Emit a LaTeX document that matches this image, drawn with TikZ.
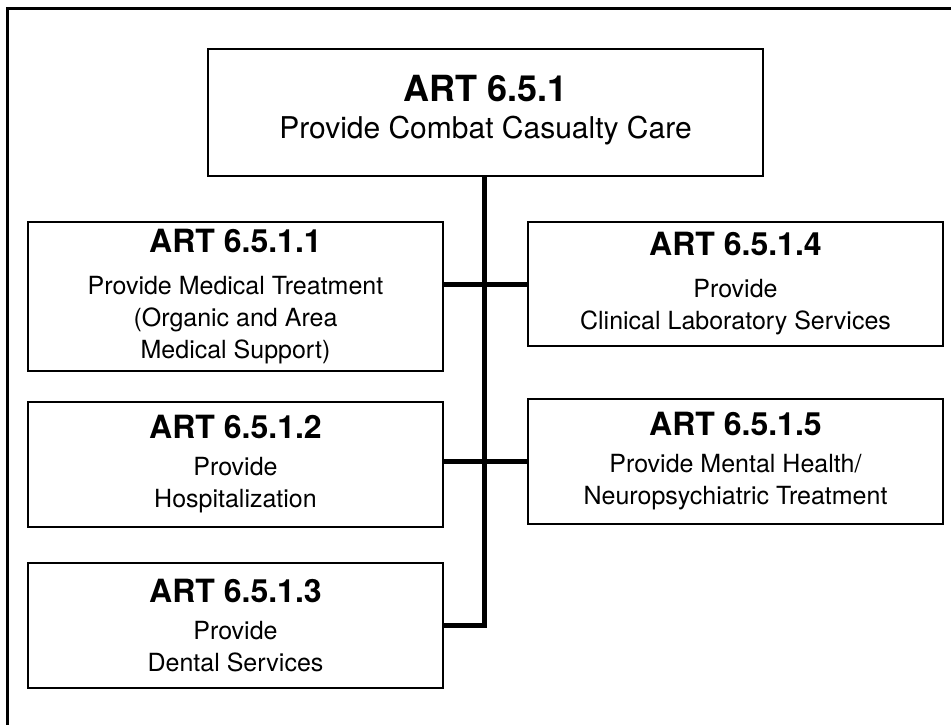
\documentclass[tikz,border=0pt]{standalone}
\usepackage{fontspec}
\setmainfont{TeX Gyre Heros}
\usetikzlibrary{positioning}

\begin{document}
\begin{tikzpicture}[x=1pt, y=-1pt,
        task/.style={draw, line width=1.5pt, minimum width=415pt, align=center,
                     font=\fontsize{25}{32}\selectfont},
        link/.style={line width=5pt, line join=miter}]
        \useasboundingbox (0,0) rectangle (951,725);
        \clip (0,0) rectangle (951,725);
        \draw[line width=3pt] (7,9) rectangle (980,760);

        \node[draw, line width=2pt, minimum width=555pt, minimum height=127pt, align=center,
              font=\fontsize{30}{37}\selectfont] (care) at (485.5,112.5)
              {{\bfseries\fontsize{36}{37}\selectfont ART 6.5.1}\\ Provide Combat Casualty Care\\[-25pt]};

        \node[task, minimum height=149pt] (treat) at (235.5,296.5)
              {{\bfseries\fontsize{32}{32}\selectfont ART 6.5.1.1}\\[10pt] Provide Medical Treatment\\ (Organic and Area\\ Medical Support)};
        \node[task, minimum height=125pt] (hosp) at (235.5,464.5)
              {{\bfseries\fontsize{32}{32}\selectfont ART 6.5.1.2}\\[5pt] Provide\\ Hospitalization};
        \node[task, minimum height=125pt] (dental) at (235.5,625.5)
              {{\bfseries\fontsize{32}{32}\selectfont ART 6.5.1.3}\\[5pt] Provide\\ Dental Services};
        \node[task, minimum height=124pt] (lab) at (735.5,284)
              {{\bfseries\fontsize{32}{32}\selectfont ART 6.5.1.4}\\[10pt] Provide\\ Clinical Laboratory Services};
        \node[task, minimum height=125pt] (mental) at (735.5,461.5)
              {{\bfseries\fontsize{32}{32}\selectfont ART 6.5.1.5}\\[5pt] Provide Mental Health/\\ Neuropsychiatric Treatment};

        \draw[link] (care.south -| 484,0) |- (dental.east);
        \draw[link] (lab.west) -- (lab.west -| treat.east);
        \draw[link] (mental.west) -- (mental.west -| hosp.east);
\end{tikzpicture}
\end{document}
